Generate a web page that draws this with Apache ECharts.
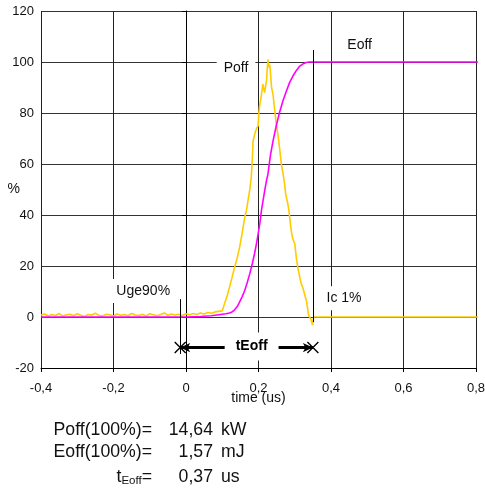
<!DOCTYPE html>
<html><head><meta charset="utf-8">
<script src="https://cdn.jsdelivr.net/npm/echarts@6/dist/echarts.min.js"></script>
<style>html,body{margin:0;padding:0;background:#fff}#c{width:485px;height:490px}</style>
</head><body><div id="c"></div>
<script>
// ---- data ----
const xTicks = [-0.4, -0.2, 0, 0.2, 0.4, 0.6, 0.8];
const yTicks = [-20, 0, 20, 40, 60, 80, 100, 120];

// Poff baseline noise, x = -0.40 .. 0.10 step 0.01
const poffNoise = [0.8,1.2,0.4,1.0,0.6,1.4,0.3,0.9,1.1,0.5,1.3,0.7,0.2,1.0,0.8,1.5,0.6,0.4,1.1,0.9,0.3,1.2,0.7,1.0,0.5,1.4,0.8,0.6,1.1,0.4,1.3,0.9,0.5,1.0,1.6,0.7,1.2,0.8,1.1,0.6,1.3,0.9,1.4,1.0,1.6,1.2,1.8,1.5,2.0,2.2,2.4];
const poffPulseX = [0.105,0.108,0.114,0.120,0.127,0.134,0.141,0.148,0.155,0.162,0.167,0.171,0.176,0.180,0.183,0.185,0.190,0.195,0.199,0.201,0.203,0.208,0.212,0.215,0.217,0.220,0.222,0.224,0.226,0.228,0.231,0.234,0.236,0.240,0.245,0.249,0.254,0.258,0.263,0.268,0.272,0.275,0.281,0.284,0.288,0.291,0.295,0.300,0.305,0.309,0.314,0.318,0.323,0.327,0.332,0.336,0.338,0.341,0.345,0.349,0.352,0.360,0.815];
const poffPulseY = [3.0,6.0,8.5,11.7,15.5,19.5,23.0,27.4,33.0,39.0,42.0,45.6,50.0,54.7,62.0,69.0,72.0,74.0,75.0,80.0,82.8,87.0,91.3,89.0,88.0,91.0,92.5,97.0,101.0,98.0,99.0,94.0,90.0,87.3,80.8,75.6,71.0,66.5,60.0,56.0,52.0,48.2,44.3,41.7,36.5,33.2,30.5,28.7,22.5,19.0,15.5,13.0,11.2,9.0,6.5,3.0,0.7,0.0,-1.0,-3.2,0.0,0,0];

const eoffX = [-0.4,0.0,0.04,0.07,0.09,0.10,0.11,0.12,0.127,0.134,0.141,0.148,0.155,0.162,0.169,0.176,0.183,0.189,0.194,0.199,0.204,0.208,0.213,0.217,0.222,0.226,0.233,0.240,0.249,0.258,0.268,0.277,0.286,0.295,0.305,0.314,0.323,0.332,0.340,0.815];
const eoffY = [0,0,0.2,0.5,0.9,1.1,1.3,1.6,2.0,2.8,4.0,5.9,8.0,10.4,13.5,17.0,21.0,24.8,28.5,32.6,37.0,41.7,46.0,49.5,53.5,56.0,63.5,69.0,75.0,80.2,85.0,88.6,92.0,94.5,96.8,98.4,99.3,99.8,100,100];

const markerX = [-0.016, 0.35];   // Uge90% and Ic 1% instants
const infoLabels = ['Poff(100%)=', 'Eoff(100%)=', 'tEoff='];
const infoValues = ['14,64', '1,57', '0,37'];
const infoUnits = ['kW', 'mJ', 'us'];

// ---- build ----
const poffData = [];
poffNoise.forEach((v, i) => poffData.push([-0.4 + i * 0.01, v]));
poffPulseX.forEach((x, i) => poffData.push([x, poffPulseY[i]]));
const eoffData = eoffX.map((x, i) => [x, eoffY[i]]);

const FONT = 'Liberation Sans, Arial, sans-serif';
const fmtX = v => Math.abs(v) < 1e-9 ? '0' : v.toFixed(1).replace('.', ',');

const annotations = [
  { text: 'Poff', coord: [0.138, 97.6], pad: [4, 7] },
  { text: 'Eoff', coord: [0.479, 106.6], pad: [3, 5] },
  { text: 'Uge90%', coord: [-0.118, 10.2], pad: [5, 5] },
  { text: 'Ic 1%', coord: [0.436, 7.4], pad: [5, 5] }
];

const chart = echarts.init(document.getElementById('c'));
chart.setOption({
  animation: false,
  textStyle: { fontFamily: FONT },
  grid: { left: 41, right: 9, top: 11, bottom: 122, containLabel: false, outerBoundsMode: 'none' },
  xAxis: {
    type: 'value', min: xTicks[0], max: xTicks[xTicks.length - 1], interval: 0.2,
    name: 'time (us)', nameLocation: 'middle', nameGap: 23, nameMoveOverlap: false,
    nameTextStyle: { fontSize: 14, color: '#111', fontFamily: FONT },
    axisLine: { onZero: false, lineStyle: { color: '#000', width: 1 } },
    axisTick: { show: true, length: 4, lineStyle: { color: '#000' } },
    axisLabel: { formatter: fmtX, fontSize: 13, color: '#111', margin: 14, fontFamily: FONT },
    splitLine: { show: true, lineStyle: { color: '#222', width: 1 } }
  },
  yAxis: {
    type: 'value', min: yTicks[0], max: yTicks[yTicks.length - 1], interval: 20,
    name: '%', nameLocation: 'middle', nameRotate: 0, nameGap: 21, nameMoveOverlap: false,
    nameTextStyle: { fontSize: 14, color: '#111', fontFamily: FONT },
    axisLine: { show: true, lineStyle: { color: '#000', width: 1 } },
    axisTick: { show: true, length: 4, lineStyle: { color: '#000' } },
    axisLabel: { fontSize: 13, color: '#111', margin: 7, fontFamily: FONT },
    splitLine: { show: true, lineStyle: { color: '#333', width: 1 } }
  },
  series: [
    {
      name: 'Poff', type: 'line', data: poffData, showSymbol: false, clip: false,
      lineStyle: { color: '#FFCC00', width: 1.6 }, z: 3
    },
    {
      name: 'Eoff', type: 'line', data: eoffData, showSymbol: false, clip: false, smooth: false,
      lineStyle: { color: '#FF00FF', width: 1.6 }, z: 4
    },
    {
      name: 'marks', type: 'line', data: [], z: 5,
      markLine: {
        silent: true, symbol: ['none', 'none'],
        lineStyle: { color: '#000', width: 1, type: 'solid' },
        label: { show: false },
        data: [
          [{ coord: [markerX[0], 7] }, { coord: [markerX[0], -14.5] }],
          [{ coord: [markerX[1], 104.7] }, { coord: [markerX[1], -2] }],
          [{ coord: [markerX[0], -12], symbol: 'arrow', symbolSize: [7, 10], lineStyle: { width: 3 } },
           { coord: [markerX[1], -12], symbol: 'arrow', symbolSize: [7, 10], lineStyle: { width: 3 } }]
        ]
      },
      markPoint: {
        silent: true,
        symbol: 'path://M0,0L10,10M10,0L0,10', symbolSize: 11,
        itemStyle: { color: 'none', borderColor: '#000', borderWidth: 1.4 },
        label: { show: false },
        data: [{ coord: [markerX[0], -12] }, { coord: [markerX[1], -12] }]
      }
    },
    {
      name: 'labels', type: 'line', data: [], z: 10,
      markPoint: {
        silent: true, symbol: 'rect', symbolSize: 1,
        itemStyle: { color: 'rgba(0,0,0,0)' },
        data: annotations.map(a => ({
          coord: a.coord,
          label: {
            show: true, position: 'inside', formatter: a.text, fontSize: 14, color: '#111',
            fontFamily: FONT, backgroundColor: '#fff', padding: a.pad
          }
        })).concat([{
          coord: [0.181, -11.6],
          label: {
            show: true, position: 'inside', formatter: 'tEoff', fontSize: 14, fontWeight: 'bold',
            color: '#000', fontFamily: FONT, backgroundColor: '#fff', padding: [7, 11]
          }
        }])
      }
    }
  ],
  graphic: infoLabels.map((lab, i) => {
    const y = [430, 452, 477][i];
    const FS = 17.7;
    const labelEl = i === 2
      ? { type: 'text', x: 152, y: y, style: { text: '{t|t}{s|Eoff}{t|=}', textAlign: 'right', textVerticalAlign: 'middle',
          rich: { t: { fontSize: FS, fontFamily: FONT, fill: '#111' }, s: { fontSize: 11.5, fontFamily: FONT, fill: '#111', padding: [8, 0, 0, 0] } } } }
      : { type: 'text', x: 152, y: y, style: { text: lab, textAlign: 'right', textVerticalAlign: 'middle', fontSize: FS, fontFamily: FONT, fill: '#111' } };
    return {
      type: 'group', children: [
        labelEl,
        { type: 'text', x: 213, y: y, style: { text: infoValues[i], textAlign: 'right', textVerticalAlign: 'middle', fontSize: FS, fontFamily: FONT, fill: '#111' } },
        { type: 'text', x: 221, y: y, style: { text: infoUnits[i], textAlign: 'left', textVerticalAlign: 'middle', fontSize: FS, fontFamily: FONT, fill: '#111' } }
      ]
    };
  })
});
</script>
</body></html>
